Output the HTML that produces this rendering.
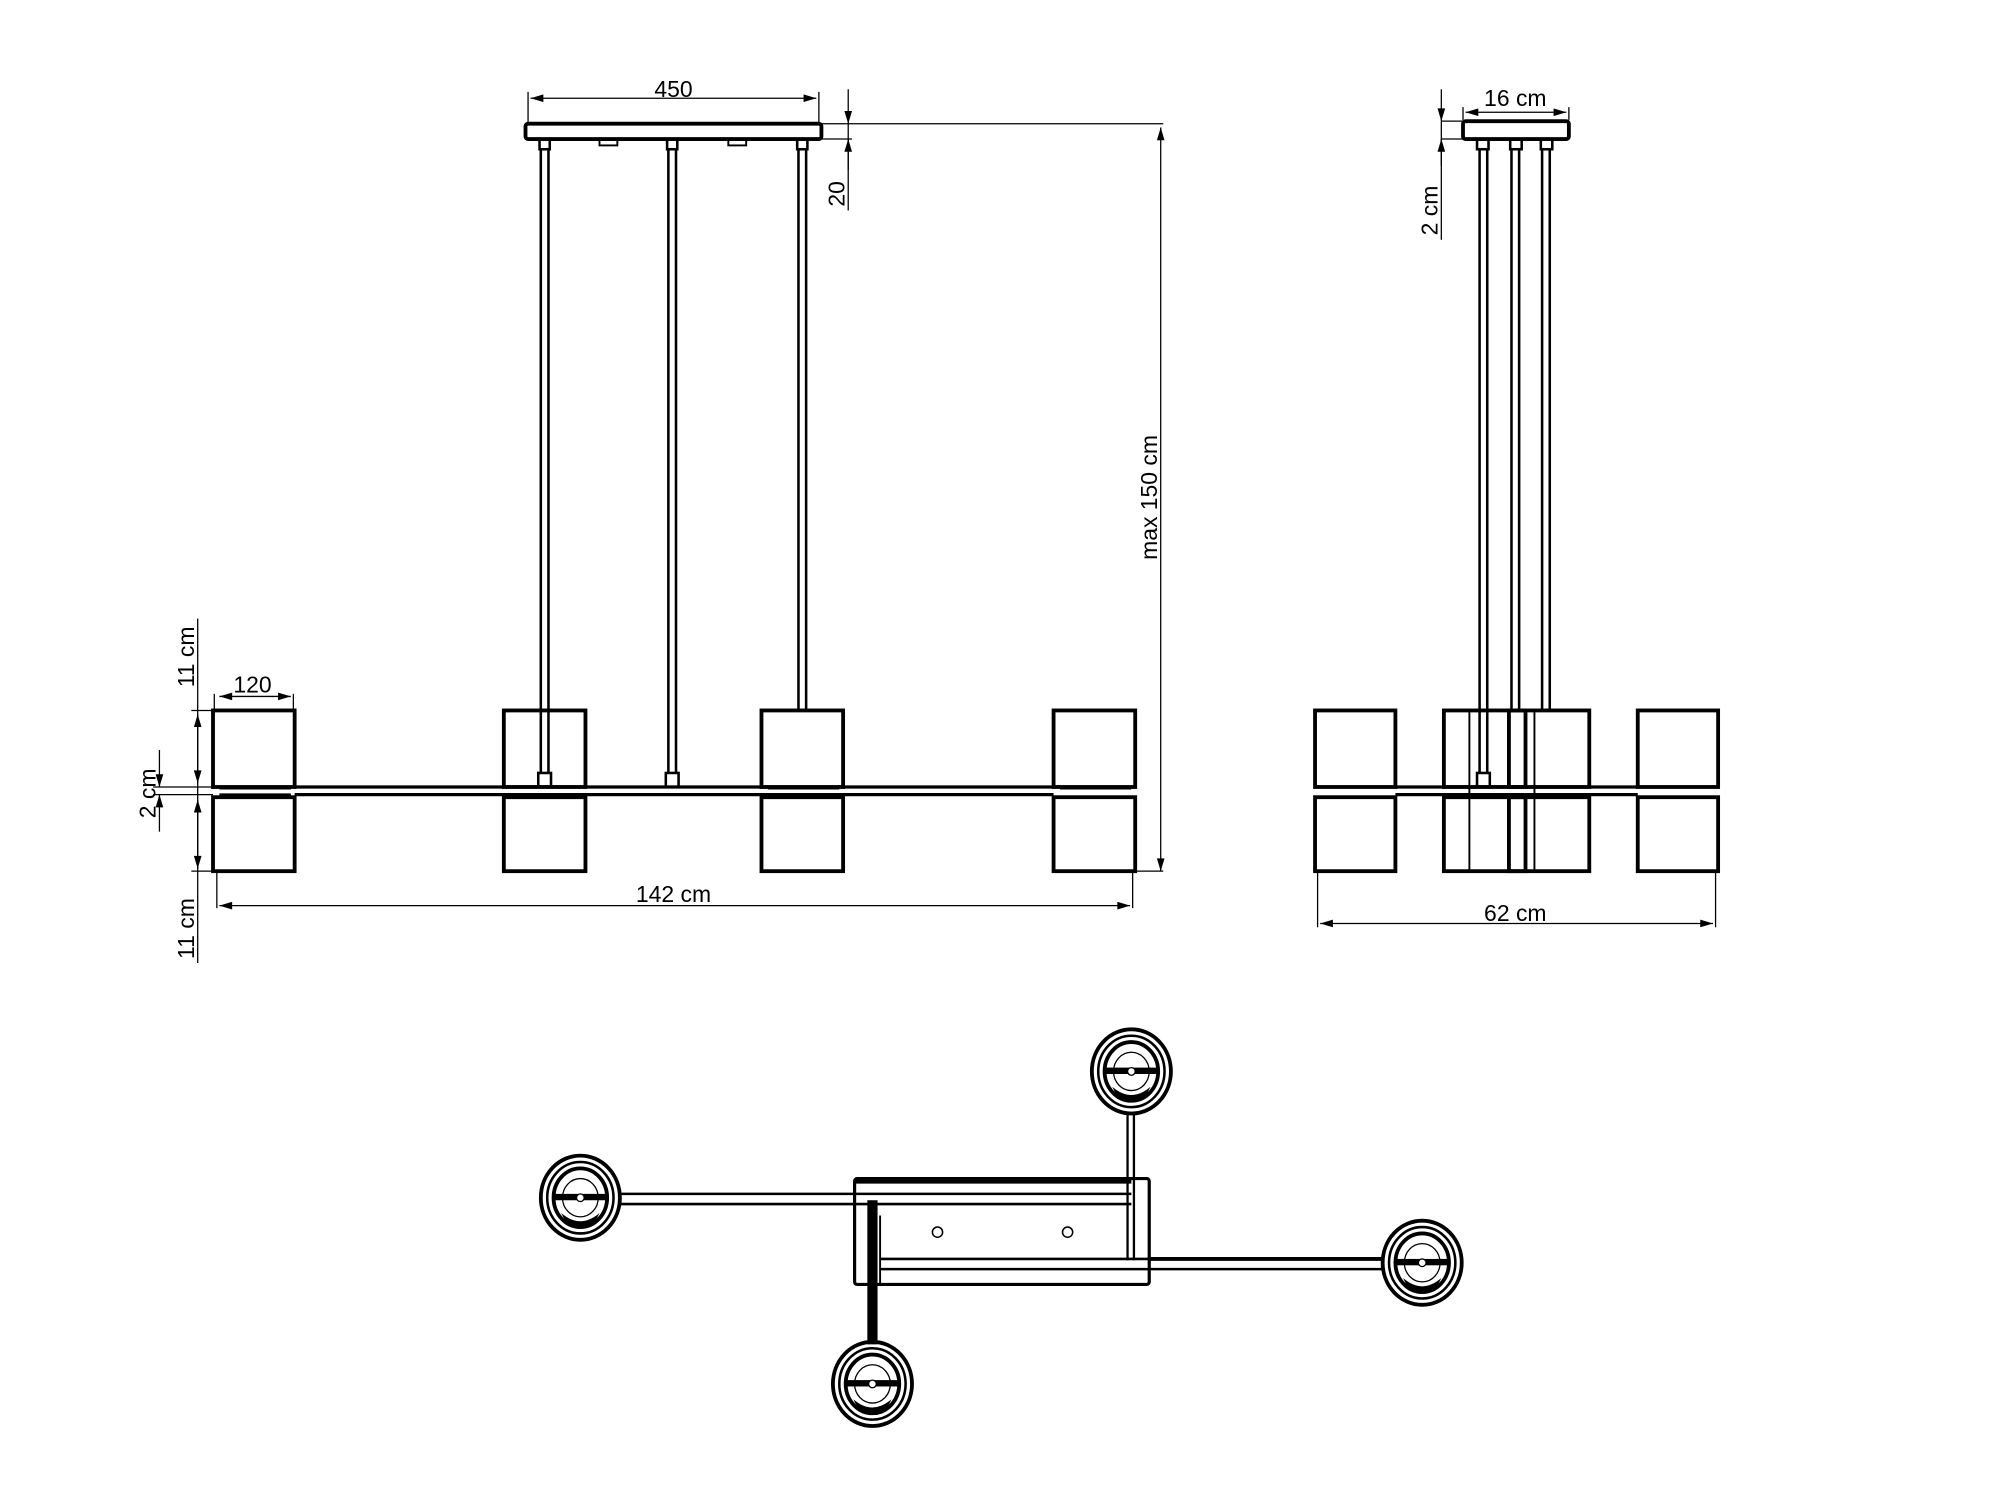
<!DOCTYPE html>
<html><head><meta charset="utf-8"><style>html,body{margin:0;padding:0;background:#fff}svg{display:block}</style></head>
<body>
<svg width="2000" height="1500" viewBox="0 0 1568 1176" xmlns="http://www.w3.org/2000/svg" font-family="Liberation Sans, Arial, sans-serif">
<defs>
<marker id="a" viewBox="0 0 10 6" refX="10" refY="3" markerWidth="12" markerHeight="6" orient="auto-start-reverse" markerUnits="userSpaceOnUse"><path d="M0,0 L10,3 L0,6 z" fill="#000"/></marker>
<g id="light">
<ellipse rx="31" ry="33" fill="none" stroke="#000" stroke-width="3"/>
<ellipse rx="26" ry="28" fill="none" stroke="#000" stroke-width="2"/>
<ellipse rx="21" ry="23" fill="none" stroke="#000" stroke-width="3"/>
<ellipse rx="14" ry="15" fill="none" stroke="#000" stroke-width="1"/>
<rect x="-22" y="-3" width="44" height="5" fill="#000"/>
<circle r="3" fill="#fff" stroke="#000"/>
<path d="M-15,12 Q0,25 15,12 L12,18 Q0,26 -12,18z" fill="#000"/>
</g>
</defs>
<g stroke="#000" fill="none">
<!-- FRONT VIEW -->
<rect x="412" y="97" width="232" height="12" rx="2" stroke-width="3"/>
<rect x="470" y="109" width="14" height="5" stroke-width="1.5"/>
<rect x="571" y="109" width="14" height="5" stroke-width="1.5"/>
<g stroke-width="2">
<rect x="423" y="109" width="8" height="8"/><rect x="523" y="109" width="8" height="8"/><rect x="625" y="109" width="8" height="8"/>
<path d="M424,117V606 M430,117V606 M524,117V606 M530,117V606 M626,117V557 M632,117V557"/>
<rect x="422" y="606" width="10" height="11"/><rect x="522" y="606" width="10" height="11"/>
</g>
<g stroke-width="3">
<rect x="167" y="557" width="64" height="60"/><rect x="395" y="557" width="64" height="60"/>
<rect x="597" y="557" width="64" height="60"/><rect x="826" y="557" width="64" height="60"/>
<rect x="167" y="625" width="64" height="58"/><rect x="395" y="625" width="64" height="58"/>
<rect x="597" y="625" width="64" height="58"/><rect x="826" y="625" width="64" height="58"/>
<path d="M231,617H826 M231,623H826" stroke-width="2.5"/>
<path d="M172,618H228 M172,623H228 M602,618H658 M831,618H887" stroke-width="2"/>
</g>
<g stroke-width="1">
<path d="M414,96V72 M642,96V72"/>
<path d="M416,77H640" marker-start="url(#a)" marker-end="url(#a)"/>
<path d="M644,97H912 M644,109H668"/>
<path d="M665,70V97" marker-end="url(#a)"/><path d="M665,133V109" marker-end="url(#a)"/>
<path d="M665,97V165"/>
<path d="M910,100V683" marker-start="url(#a)" marker-end="url(#a)"/>
<path d="M890,683H912"/>
<path d="M170,682V712 M888,682V712"/>
<path d="M172,710H886" marker-start="url(#a)" marker-end="url(#a)"/>
<path d="M168,556V544 M230,556V544"/><path d="M172,546H228" marker-start="url(#a)" marker-end="url(#a)"/>
<path d="M155,485V755"/>
<path d="M150,557H167 M150,683H167 M120,617H167 M120,623H167"/>
<path d="M155,560V614" marker-start="url(#a)" marker-end="url(#a)"/>
<path d="M155,627V681" marker-start="url(#a)" marker-end="url(#a)"/>
<path d="M125,588V617" marker-end="url(#a)"/><path d="M125,652V623" marker-end="url(#a)"/>
</g>
<!-- SIDE VIEW -->
<rect x="1147" y="95" width="83" height="14" rx="2" stroke-width="3"/>
<g stroke-width="2">
<rect x="1158" y="109" width="9" height="8"/><rect x="1184" y="109" width="9" height="8"/><rect x="1208" y="109" width="9" height="8"/>
<path d="M1160,117V606 M1166,117V606 M1185,117V557 M1191,117V557 M1209,117V557 M1215,117V557"/>
<rect x="1158" y="606" width="10" height="11"/>
</g>
<g stroke-width="3">
<rect x="1031" y="557" width="63" height="60"/><rect x="1132" y="557" width="64" height="60"/>
<rect x="1183" y="557" width="63" height="60"/><rect x="1284" y="557" width="63" height="60"/>
<rect x="1031" y="625" width="63" height="58"/><rect x="1132" y="625" width="64" height="58"/>
<rect x="1183" y="625" width="63" height="58"/><rect x="1284" y="625" width="63" height="58"/>
<path d="M1094,617H1284 M1094,623H1284" stroke-width="2.5"/>
</g>
<path d="M1152,557V683 M1203,557V683" stroke-width="1.5"/>
<g stroke-width="1">
<path d="M1147,94V84 M1230,94V84"/>
<path d="M1149,88H1228" marker-start="url(#a)" marker-end="url(#a)"/>
<path d="M1130,95H1147 M1130,109H1147"/>
<path d="M1130,70V95" marker-end="url(#a)"/><path d="M1130,130V109" marker-end="url(#a)"/>
<path d="M1130,95V188"/>
<path d="M1033,684V727 M1345,684V727"/>
<path d="M1035,724H1343" marker-start="url(#a)" marker-end="url(#a)"/>
</g>
<!-- TOP VIEW -->
<rect x="670" y="924" width="231" height="83" rx="2" stroke-width="2.5"/>
<path d="M670,926H887" stroke-width="4"/>
<path d="M486,936H887 M486,944H887" stroke-width="2"/>
<path d="M690,987H1085 M690,995H1085" stroke-width="2"/>
<path d="M901,987H1085" stroke-width="3"/>
<path d="M884,872V988 M889,872V988" stroke-width="1.8"/>
<path d="M684,941V1054" stroke-width="8"/>
<path d="M690,953V1007" stroke-width="1.5"/>
<circle cx="735" cy="966" r="4" stroke-width="1.2"/>
<circle cx="837" cy="966" r="4" stroke-width="1.2"/>
</g>
<use href="#light" x="455" y="939"/>
<use href="#light" x="887" y="840"/>
<use href="#light" x="1115" y="990"/>
<use href="#light" x="684" y="1085"/>
<g font-size="18" fill="#000" text-anchor="middle">
<text x="528" y="76">450</text>
<text x="528" y="707">142 cm</text>
<text x="198" y="543">120</text>
<text x="1188" y="83">16 cm</text>
<text x="1188" y="722">62 cm</text>
<text transform="translate(662,152) rotate(-90)">20</text>
<text transform="translate(907,390) rotate(-90)">max 150 cm</text>
<text transform="translate(152,515) rotate(-90)">11 cm</text>
<text transform="translate(152,728) rotate(-90)">11 cm</text>
<text transform="translate(122,622) rotate(-90)">2 cm</text>
<text transform="translate(1127,165) rotate(-90)">2 cm</text>
</g>
</svg>
</body></html>
